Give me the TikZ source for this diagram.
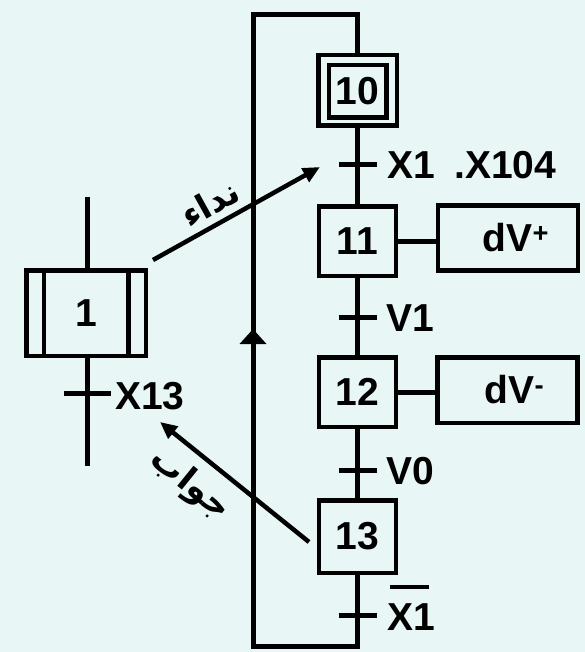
\documentclass[tikz,border=0pt]{standalone}
\usepackage{fontspec}
\setmainfont{Liberation Sans}
\newfontfamily\arabicfont[Script=Arabic]{DejaVu Sans}
\TeXXeTstate=1
\usetikzlibrary{arrows.meta}
\definecolor{bg}{RGB}{232,247,245}
\begin{document}
\begin{tikzpicture}[x=1pt,y=-1pt,
  every node/.style={inner sep=0pt, outer sep=0pt},
  big/.style={font=\fontsize{39}{41}\selectfont\bfseries},
  stepbox/.style={draw, line width=4.5pt, minimum width=77pt, minimum height=69.5pt, big},
  actbox/.style={draw, line width=4.5pt, minimum width=140pt, minimum height=64.5pt, big},
  lbl/.style={big, anchor=base west},
  wire/.style={line width=5pt, line join=miter},
  sig/.style={line width=4.5pt, -{Triangle[length=17pt,width=15pt]}},
  ar/.style={font=\arabicfont\fontsize{34}{36}\selectfont\bfseries}
]
\fill[bg] (0,0) rectangle (585,652);
\useasboundingbox (0,0) rectangle (585,652);

% grafcet steps
\node[stepbox, minimum width=78.5pt, minimum height=70.5pt] (s10o) at (357.5,90.5) {};
\node[stepbox, minimum width=57.5pt, minimum height=52.5pt] (s10) at (357.5,91.5) {10};
\node[stepbox] (s11) at (357.5,241) {11};
\node[stepbox] (s12) at (357.5,392) {12};
\node[stepbox, minimum height=72.5pt] (s13) at (357.5,536.5) {13};

% actions
\node[actbox] (a11) at (508,238) {\hspace*{16pt}dV\textsuperscript{+}};
\node[actbox, minimum height=65.5pt] (a12) at (507.5,390) {\hspace*{14pt}dV\textsuperscript{-}};
\draw[wire] (s11.east) -- (s11.east -| a11.west);
\draw[wire] (s12.east) -- (s12.east -| a12.west);

% transitions
\coordinate (t1) at (357.5,165);
\coordinate (t2) at (357.5,317);
\coordinate (t3) at (357.5,470);
\coordinate (t4) at (357.5,615);
\foreach \t in {t1,t2,t3,t4}{
  \draw[wire] ([xshift=-19pt]\t) -- ([xshift=19pt]\t);
}
\node[lbl] (l1) at (387,179) {X1\hspace{0.5em}.X104};
\node[lbl] (l2) at (386,331) {V1};
\node[lbl] (l3) at (386,484) {V0};
\node[lbl] (l4) at (387,630) {\rlap{\hspace{0.07em}\rule[1.05em]{1.0em}{0.11em}}X1};

% main line and loop
\coordinate (lb) at (357.5,646);
\coordinate (lc1) at (253,646);
\coordinate (lc2) at (253,14.5);
\coordinate (lc3) at (357.5,14.5);
\draw[wire] (s10o.south) -- (s11.north);
\draw[wire] (s11.south) -- (s12.north);
\draw[wire] (s12.south) -- (s13.north);
\draw[wire] (s13.south) -- (lb) -- (lc1) -- (lc2) -- (lc3) -- (s10o.north);
\coordinate (ua0) at (253,350);
\coordinate (ua1) at (253,329);
\draw[line width=5pt, -{Triangle[length=15pt,width=26pt]}] (ua0) -- (ua1);

% step 1 (other grafcet)
\node[stepbox, minimum width=119.5pt, minimum height=85.5pt] (s1) at (86,313) {1};
\draw[line width=4.5pt] ([xshift=17.5pt]s1.north west) -- ([xshift=17.5pt]s1.south west);
\draw[line width=4.5pt] ([xshift=-17.5pt]s1.north east) -- ([xshift=-17.5pt]s1.south east);
\coordinate (p0) at (87,197);
\coordinate (p1) at (87,466);
\coordinate (t5) at (87,393);
\draw[wire] (p0) -- (p0 |- s1.north);
\draw[wire] (p1 |- s1.south) -- (p1);
\draw[wire] ([xshift=-23pt]t5) -- ([xshift=24pt]t5);
\node[lbl] (l5) at (115,409) {X13};

% calls
\coordinate (n0) at (153,260);
\coordinate (n1) at (320,167);
\draw[sig] (n0) -- (n1);
\node[ar, rotate=29] (tn) at (210,203) {\beginR نداء\endR};
\coordinate (j0) at (309,542);
\coordinate (j1) at (160,422);
\draw[sig] (j0) -- (j1);
\node[ar, rotate=-39] (tj) at (190,485) {\beginR جواب\endR};
\end{tikzpicture}
\end{document}
